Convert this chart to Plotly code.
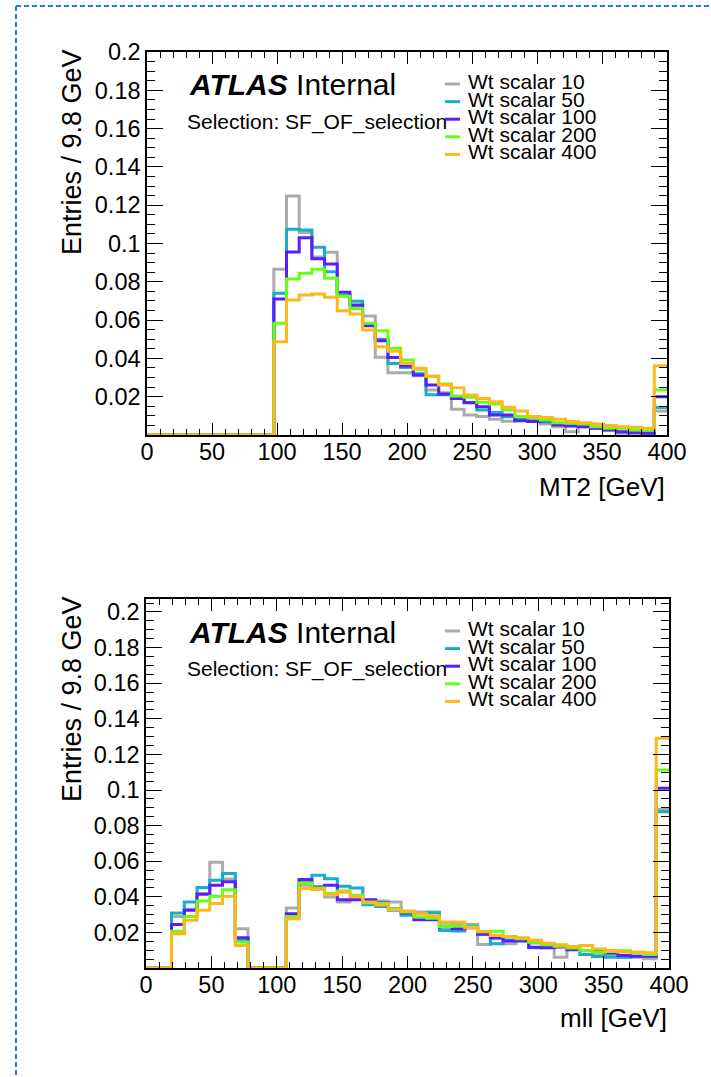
import numpy as np
import plotly.graph_objects as go

W, H = 711, 1077

# 41 bins from 0 to 400 GeV (9.8 GeV each); last bin holds the overflow
N_BINS = 41
X_MIN, X_MAX = 0, 400

SERIES = ["Wt scalar 10", "Wt scalar 50", "Wt scalar 100", "Wt scalar 200", "Wt scalar 400"]
COLORS = ["#ababab", "#17afc8", "#5b1cff", "#66ff14", "#ffb81c"]

# ---- MT2 distributions (normalised entries per bin) ----
mt2_w10 = [0, 0, 0, 0, 0, 0, 0, 0, 0, 0,
           0.0865, 0.1248, 0.1058, 0.0930, 0.0954, 0.0727, 0.0680, 0.0621, 0.0406, 0.0325,
           0.0325, 0.0310, 0.0235, 0.0220, 0.0134, 0.0104, 0.0096, 0.0082, 0.0072, 0.0076,
           0.0076, 0.0057, 0.0043, 0.0017, 0.0043, 0.0035, 0.0026, 0.0009, 0.0012, 0.0009,
           0.0125]
mt2_w50 = [0, 0, 0, 0, 0, 0, 0, 0, 0, 0,
           0.0740, 0.1074, 0.1070, 0.0980, 0.0853, 0.0730, 0.0698, 0.0580, 0.0500, 0.0374,
           0.0353, 0.0320, 0.0210, 0.0210, 0.0190, 0.0170, 0.0130, 0.0118, 0.0095, 0.0085,
           0.0072, 0.0068, 0.0058, 0.0050, 0.0044, 0.0038, 0.0032, 0.0015, 0.0012, 0.0010,
           0.0143]
mt2_w100 = [0, 0, 0, 0, 0, 0, 0, 0, 0, 0,
            0.0710, 0.0956, 0.1030, 0.0920, 0.0893, 0.0745, 0.0677, 0.0571, 0.0492, 0.0405,
            0.0360, 0.0313, 0.0261, 0.0214, 0.0191, 0.0169, 0.0148, 0.0104, 0.0104, 0.0075,
            0.0070, 0.0075, 0.0052, 0.0047, 0.0043, 0.0035, 0.0026, 0.0017, 0.0012, 0.0009,
            0.0200]
mt2_w200 = [0, 0, 0, 0, 0, 0, 0, 0, 0, 0,
            0.0583, 0.0815, 0.0844, 0.0865, 0.0818, 0.0725, 0.0661, 0.0583, 0.0545, 0.0453,
            0.0392, 0.0343, 0.0305, 0.0266, 0.0204, 0.0197, 0.0171, 0.0162, 0.0131, 0.0096,
            0.0090, 0.0078, 0.0064, 0.0061, 0.0057, 0.0043, 0.0035, 0.0035, 0.0026, 0.0026,
            0.0235]
mt2_w400 = [0, 0, 0, 0, 0, 0, 0, 0, 0, 0,
            0.0487, 0.0705, 0.0731, 0.0736, 0.0719, 0.0649, 0.0632, 0.0548, 0.0461, 0.0437,
            0.0374, 0.0348, 0.0308, 0.0261, 0.0247, 0.0209, 0.0191, 0.0174, 0.0145, 0.0125,
            0.0096, 0.0092, 0.0082, 0.0070, 0.0064, 0.0057, 0.0049, 0.0043, 0.0040, 0.0035,
            0.0362]

# ---- mll distributions ----
mll_w10 = [0, 0, 0.0290, 0.0330, 0.0418, 0.0594, 0.0500, 0.0221, 0, 0,
           0, 0.0337, 0.0465, 0.0455, 0.0399, 0.0371, 0.0390, 0.0380, 0.0376, 0.0371,
           0.0315, 0.0314, 0.0314, 0.0252, 0.0245, 0.0245, 0.0132, 0.0165, 0.0136, 0.0150,
           0.0140, 0.0130, 0.0061, 0.0107, 0.0099, 0.0075, 0.0071, 0.0061, 0.0061, 0.0052,
           0.0890]
mll_w50 = [0, 0, 0.0309, 0.0371, 0.0452, 0.0493, 0.0531, 0.0160, 0, 0,
           0, 0.0296, 0.0480, 0.0521, 0.0502, 0.0459, 0.0450, 0.0356, 0.0346, 0.0324,
           0.0296, 0.0305, 0.0310, 0.0211, 0.0208, 0.0234, 0.0189, 0.0136, 0.0158, 0.0152,
           0.0114, 0.0124, 0.0122, 0.0107, 0.0076, 0.0064, 0.0061, 0.0061, 0.0066, 0.0066,
           0.0878]
mll_w100 = [0, 0, 0.0245, 0.0324, 0.0414, 0.0465, 0.0484, 0.0170, 0, 0,
            0, 0.0305, 0.0497, 0.0455, 0.0465, 0.0384, 0.0384, 0.0384, 0.0365, 0.0333,
            0.0309, 0.0271, 0.0271, 0.0230, 0.0220, 0.0226, 0.0189, 0.0170, 0.0151, 0.0155,
            0.0116, 0.0114, 0.0118, 0.0102, 0.0099, 0.0095, 0.0084, 0.0070, 0.0066, 0.0066,
            0.1010]
mll_w200 = [0, 0, 0.0207, 0.0290, 0.0376, 0.0403, 0.0440, 0.0146, 0, 0,
            0, 0.0290, 0.0478, 0.0450, 0.0418, 0.0433, 0.0408, 0.0366, 0.0362, 0.0333,
            0.0315, 0.0286, 0.0279, 0.0233, 0.0236, 0.0230, 0.0207, 0.0207, 0.0177, 0.0165,
            0.0145, 0.0130, 0.0122, 0.0112, 0.0099, 0.0088, 0.0092, 0.0097, 0.0085, 0.0076,
            0.1113]
mll_w400 = [0, 0, 0.0193, 0.0268, 0.0324, 0.0362, 0.0403, 0.0127, 0, 0,
            0, 0.0277, 0.0446, 0.0441, 0.0412, 0.0425, 0.0400, 0.0371, 0.0356, 0.0328,
            0.0320, 0.0305, 0.0293, 0.0258, 0.0258, 0.0226, 0.0203, 0.0183, 0.0177, 0.0170,
            0.0156, 0.0139, 0.0130, 0.0121, 0.0127, 0.0107, 0.0099, 0.0090, 0.0090, 0.0085,
            0.1291]

Y_TICKS = [0.02, 0.04, 0.06, 0.08, 0.10, 0.12, 0.14, 0.16, 0.18, 0.20]
Y_TICK_TEXT = ["0.02", "0.04", "0.06", "0.08", "0.1", "0.12", "0.14", "0.16", "0.18", "0.2"]
X_TICKS = [0, 50, 100, 150, 200, 250, 300, 350, 400]

edges = np.linspace(X_MIN, X_MAX, N_BINS + 1)
FONT = "Liberation Sans, Arial, sans-serif"


def px(x):
    return x / W


def py(y):
    return 1 - y / H


fig = go.Figure()

panels = [
    dict(series=[mt2_w10, mt2_w50, mt2_w100, mt2_w200, mt2_w400], xa="x", ya="y",
         xtitle="MT2 [GeV]", ymax=0.2, box=(147, 667, 52, 435), xt_y=487),
    dict(series=[mll_w10, mll_w50, mll_w100, mll_w200, mll_w400], xa="x2", ya="y2",
         xtitle="mll [GeV]", ymax=0.2073, box=(146, 669, 599, 968), xt_y=1018),
]

annotations = []
shapes = []

for k, p in enumerate(panels):
    for name, vals, col in zip(SERIES, p["series"], COLORS):
        yv = list(vals) + [vals[-1]]
        fig.add_trace(go.Scatter(
            x=edges, y=yv, mode="lines", line=dict(color=col, width=3, shape="hv"),
            name=name, showlegend=False, xaxis=p["xa"], yaxis=p["ya"],
        ))

    x0, x1, y0, y1 = p["box"]
    suffix = "" if k == 0 else "2"
    axis_common = dict(
        showline=True, linecolor="black", linewidth=1.5, mirror="allticks",
        ticks="inside", tickcolor="black", showgrid=False, zeroline=False,
        automargin=False,
        tickfont=dict(family=FONT, size=23.5, color="black"),
    )
    fig.update_layout(**{
        "xaxis" + suffix: dict(
            domain=[px(x0), px(x1)], range=[X_MIN, X_MAX], anchor="y" + suffix,
            tickmode="array", tickvals=X_TICKS, ticklen=12, tickwidth=1,
            ticklabelstandoff=-5,
            minor=dict(tickmode="linear", tick0=0, dtick=10, ticklen=6,
                       ticks="inside", tickcolor="black"),
            **axis_common),
        "yaxis" + suffix: dict(
            domain=[py(y1), py(y0)], range=[0, p["ymax"]], anchor="x" + suffix,
            tickmode="array", tickvals=Y_TICKS, ticktext=Y_TICK_TEXT,
            ticklen=16, tickwidth=1,
            minor=dict(tickmode="linear", tick0=0, dtick=0.005, ticklen=8,
                       ticks="inside", tickcolor="black"),
            **axis_common),
    })

    dy = y0 - 52  # vertical offset of this panel relative to the first one

    # axis titles
    annotations.append(dict(
        x=px(x1), y=py(p["xt_y"]), xref="paper", yref="paper", xanchor="right",
        yanchor="middle", showarrow=False, text=p["xtitle"],
        font=dict(family=FONT, size=26, color="black")))
    annotations.append(dict(
        x=px(72), y=py(47 + dy), xref="paper", yref="paper", xanchor="center",
        yanchor="top", textangle=-90, showarrow=False, text="Entries / 9.8 GeV",
        font=dict(family=FONT, size=27, color="black")))

    # ATLAS label and selection text
    annotations.append(dict(
        x=px(187), y=py(85 + dy), xref="paper", yref="paper", xanchor="left",
        yanchor="middle", showarrow=False, text="<b><i>ATLAS</i></b> Internal",
        font=dict(family=FONT, size=30, color="black")))
    annotations.append(dict(
        x=px(185), y=py(122 + dy), xref="paper", yref="paper", xanchor="left",
        yanchor="middle", showarrow=False, text="Selection: SF_OF_selection",
        font=dict(family=FONT, size=21, color="black")))

    # hand-placed legend
    for i, (name, col) in enumerate(zip(SERIES, COLORS)):
        ly = 84 + 17.6 * i + dy
        shapes.append(dict(type="line", xref="paper", yref="paper",
                           x0=px(445), x1=px(460), y0=py(ly), y1=py(ly),
                           line=dict(color=col, width=3)))
        annotations.append(dict(
            x=px(466), y=py(ly - 2.5), xref="paper", yref="paper", xanchor="left",
            yanchor="middle", showarrow=False, text=name,
            font=dict(family=FONT, size=21, color="black")))

# dotted blue frame along the top and left edges
shapes.append(dict(type="line", xref="paper", yref="paper", x0=px(16), x1=1.0,
                   y0=py(6), y1=py(6), line=dict(color="#1f78ff", width=2, dash="5px,3px")))
shapes.append(dict(type="line", xref="paper", yref="paper", x0=px(16), x1=px(16),
                   y0=py(6), y1=0.0, line=dict(color="#1f78ff", width=2, dash="5px,3px")))

fig.update_layout(
    width=W, height=H,
    margin=dict(l=0, r=0, t=0, b=0, pad=0, autoexpand=False),
    paper_bgcolor="white", plot_bgcolor="white",
    showlegend=False, annotations=annotations, shapes=shapes,
)

fig.write_html("out.html", config={"responsive": False, "displayModeBar": False})
